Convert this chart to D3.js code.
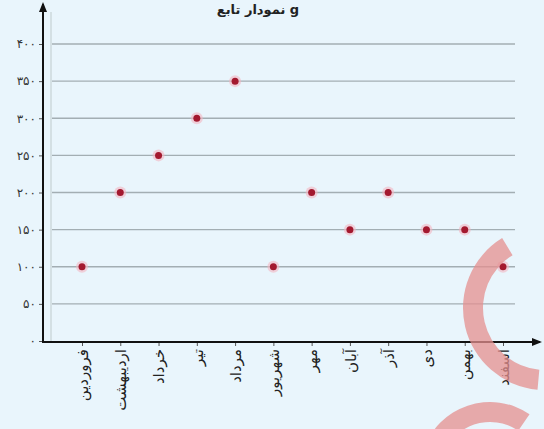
<!DOCTYPE html>
<html>
<head>
<meta charset="utf-8">
<script src="https://cdn.jsdelivr.net/npm/d3@7"></script>
<style>
  body { margin: 0; background: #e9f5fc; }
  svg { display: block; font-family: "DejaVu Sans", sans-serif; }
</style>
</head>
<body>
<div id="wrapper"></div>
<script>
const months = ["فروردین", "اردیبهشت", "خرداد", "تیر", "مرداد", "شهریور",
                "مهر", "آبان", "آذر", "دی", "بهمن", "اسفند"]
const values = [100, 200, 250, 300, 350, 100, 200, 150, 200, 150, 150, 100]
const yTicks = [0, 50, 100, 150, 200, 250, 300, 350, 400]
const yTickLabels = ["۰", "۵۰", "۱۰۰", "۱۵۰", "۲۰۰", "۲۵۰", "۳۰۰", "۳۵۰", "۴۰۰"]
const title = "نمودار تابع g"

function drawChart() {
  const width = 544
  const height = 429

  const svg = d3.select("#wrapper").append("svg")
    .attr("width", width)
    .attr("height", height)

  svg.append("rect")
    .attr("width", width).attr("height", height)
    .attr("fill", "#e9f5fc")

  // scales
  const xScaler = d3.scalePoint()
    .domain(months)
    .range([82, 503])

  const yScaler = d3.scaleLinear()
    .domain([0, 400])
    .range([341, 44])

  const axisX = 43
  const axisY = yScaler(0) + 1

  // grid
  svg.append("g")
    .selectAll("line")
    .data(yTicks.filter(d => d > 0))
    .join("line")
    .attr("x1", 50)
    .attr("x2", 515)
    .attr("y1", d => yScaler(d))
    .attr("y2", d => yScaler(d))
    .attr("stroke", "#a3aeb3")
    .attr("stroke-width", 1.3)

  // faint vertical guide
  svg.append("line")
    .attr("x1", 51).attr("x2", 51)
    .attr("y1", 12).attr("y2", axisY)
    .attr("stroke", "#d4e0e4")
    .attr("stroke-width", 2)

  // y axis
  const yAxis = svg.append("g")
    .attr("transform", `translate(${axisX},0)`)
    .call(d3.axisLeft(yScaler)
      .tickValues(yTicks)
      .tickSize(4)
      .tickFormat((d, i) => yTickLabels[i]))
  yAxis.select(".domain").remove()
  yAxis.selectAll(".tick line").attr("stroke", "#555")
  yAxis.selectAll(".tick text")
    .attr("x", -7)
    .attr("font-size", 12)
    .attr("font-family", "DejaVu Sans")
    .attr("fill", "#333")

  // x axis
  const xAxis = svg.append("g")
    .attr("transform", `translate(0,${axisY})`)
    .call(d3.axisBottom(xScaler).tickSize(4))
  xAxis.select(".domain").remove()
  xAxis.selectAll(".tick line").attr("stroke", "#555")
  xAxis.selectAll(".tick text")
    .attr("transform", "rotate(-90)")
    .attr("x", -7)
    .attr("y", 0)
    .attr("dy", "0.35em")
    .attr("text-anchor", "end")
    .attr("font-size", 15)
    .attr("font-family", "DejaVu Sans")
    .attr("fill", "#222")

  // axis lines with arrows
  svg.append("defs").append("marker")
    .attr("id", "arrow")
    .attr("viewBox", "0 0 10 10")
    .attr("refX", 8).attr("refY", 5)
    .attr("markerWidth", 5).attr("markerHeight", 5)
    .attr("orient", "auto")
    .append("path")
    .attr("d", "M0,1 L10,5 L0,9 Z")
    .attr("fill", "#111")

  svg.append("line")
    .attr("x1", axisX).attr("y1", axisY)
    .attr("x2", axisX).attr("y2", 4)
    .attr("stroke", "#111").attr("stroke-width", 2)
    .attr("marker-end", "url(#arrow)")

  svg.append("line")
    .attr("x1", axisX - 1).attr("y1", axisY)
    .attr("x2", 540).attr("y2", axisY)
    .attr("stroke", "#111").attr("stroke-width", 2)
    .attr("marker-end", "url(#arrow)")

  // points
  const pts = svg.append("g")
  pts.selectAll("circle.halo")
    .data(values)
    .join("circle")
    .attr("class", "halo")
    .attr("cx", (d, i) => xScaler(months[i]))
    .attr("cy", d => yScaler(d))
    .attr("r", 6)
    .attr("fill", "#f4b6c2")
    .attr("opacity", 0.6)
  pts.selectAll("circle.dot")
    .data(values)
    .join("circle")
    .attr("class", "dot")
    .attr("cx", (d, i) => xScaler(months[i]))
    .attr("cy", d => yScaler(d))
    .attr("r", 3.5)
    .attr("fill", "#a3192f")

  // title
  svg.append("text")
    .attr("x", 258)
    .attr("y", 14)
    .attr("text-anchor", "middle")
    .attr("font-size", 13)
    .attr("font-weight", "bold")
    .attr("fill", "#222")
    .text(title)

  // watermark arcs
  const arc = d3.arc()
  svg.append("path")
    .attr("transform", "translate(545,308)")
    .attr("d", arc({ innerRadius: 62, outerRadius: 82, startAngle: -0.55, endAngle: -3.05 }))
    .attr("fill", "#e48f8f")
    .attr("opacity", 0.75)
  svg.append("path")
    .attr("transform", "translate(490,472)")
    .attr("d", arc({ innerRadius: 50, outerRadius: 70, startAngle: -1.25, endAngle: 0.6 }))
    .attr("fill", "#e48f8f")
    .attr("opacity", 0.75)
}

drawChart()
</script>
</body>
</html>
